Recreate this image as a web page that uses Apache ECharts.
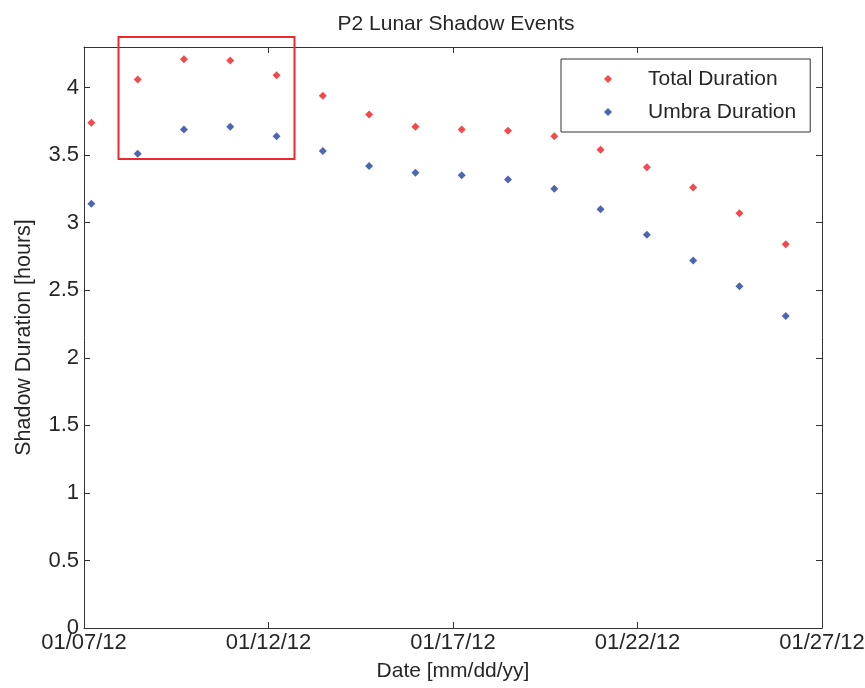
<!DOCTYPE html>
<html>
<head>
<meta charset="utf-8">
<script src="https://cdn.jsdelivr.net/npm/echarts@6/dist/echarts.min.js"></script>
<style>
html,body{margin:0;padding:0;background:#fff;}
#chart{width:865px;height:688px;}
</style>
</head>
<body>
<div id="chart"></div>
<script>
// ---- data ----
const axisStartDate = '2012-01-07';
const axisEndDate = '2012-01-27';
const tickStepDays = 5;
const eventTimes = [
  '2012-01-07 04:48', '2012-01-08 10:55', '2012-01-09 17:01', '2012-01-10 23:07',
  '2012-01-12 05:14', '2012-01-13 11:20', '2012-01-14 17:27', '2012-01-15 23:33',
  '2012-01-17 05:40', '2012-01-18 11:46', '2012-01-19 17:53', '2012-01-20 23:59',
  '2012-01-22 06:06', '2012-01-23 12:12', '2012-01-24 18:19', '2012-01-26 00:25'
];
const totalDuration = [3.74, 4.06, 4.21, 4.20, 4.09, 3.94, 3.80, 3.71, 3.69, 3.68, 3.64, 3.54, 3.41, 3.26, 3.07, 2.84];
const umbraDuration = [3.14, 3.51, 3.69, 3.71, 3.64, 3.53, 3.42, 3.37, 3.35, 3.32, 3.25, 3.10, 2.91, 2.72, 2.53, 2.31];
const seriesNames = ['Total Duration', 'Umbra Duration'];
const yMax = 4.3;

// ---- helpers ----
const DAY = 86400000;
function parseUTC(s) {
  const p = s.split(/[- :]/).map(Number);
  return Date.UTC(p[0], p[1] - 1, p[2], p[3] || 0, p[4] || 0);
}
const t0 = parseUTC(axisStartDate);
const spanDays = (parseUTC(axisEndDate) - t0) / DAY;
const xDays = eventTimes.map(s => (parseUTC(s) - t0) / DAY);
function pad(n) { return (n < 10 ? '0' : '') + n; }
function fmtDate(v) {
  const d = new Date(t0 + v * DAY);
  return pad(d.getUTCMonth() + 1) + '/' + pad(d.getUTCDate()) + '/' + pad(d.getUTCFullYear() % 100);
}

const FONT = 'Liberation Sans, Arial, sans-serif';
const TXT = '#262626';
const chart = echarts.init(document.getElementById('chart'), null, {renderer: 'canvas'});

const xBase = {
  type: 'value', min: 0, max: spanDays, interval: tickStepDays,
  splitLine: {show: false},
  axisLine: {show: true, onZero: false, lineStyle: {color: '#333', width: 1}},
  axisTick: {show: true, inside: true, length: 6, lineStyle: {color: '#333'}}
};
const yBase = {
  type: 'value', min: 0, max: yMax, interval: 0.5,
  splitLine: {show: false},
  axisLine: {show: true, onZero: false, lineStyle: {color: '#333', width: 1}},
  axisTick: {show: true, inside: true, length: 6, lineStyle: {color: '#333'}}
};

chart.setOption({
  backgroundColor: '#fff',
  animation: false,
  title: {
    text: 'P2 Lunar Shadow Events',
    left: 451, top: 9, textAlign: 'center',
    textStyle: {fontFamily: FONT, fontSize: 21, fontWeight: 'normal', color: TXT}
  },
  grid: {left: 84, right: 43, top: 47, bottom: 60, containLabel: false, outerBoundsMode: 'none'},
  legend: {
    orient: 'vertical', left: 561, top: 59,
    backgroundColor: '#fff',
    borderColor: '#333', borderWidth: 1,
    padding: [9, 14, 9, 43],
    itemWidth: 8, itemHeight: 8, itemGap: 11,
    icon: 'diamond',
    textStyle: {fontFamily: FONT, fontSize: 21, color: TXT, lineHeight: 22, padding: [0, 0, 0, 31]},
    data: seriesNames
  },
  xAxis: [
    Object.assign({}, xBase, {
      position: 'bottom',
      name: 'Date [mm/dd/yy]', nameLocation: 'middle', nameGap: 33,
      nameTextStyle: {fontFamily: FONT, fontSize: 21, color: TXT},
      axisLabel: {show: true, formatter: fmtDate, fontFamily: FONT, fontSize: 22, color: TXT, margin: 4, showMinLabel: true, showMaxLabel: true}
    }),
    Object.assign({}, xBase, {position: 'top', axisLabel: {show: false}})
  ],
  yAxis: [
    Object.assign({}, yBase, {
      position: 'left',
      name: 'Shadow Duration [hours]', nameLocation: 'middle', nameGap: 49,
      nameTextStyle: {fontFamily: FONT, fontSize: 21.5, color: TXT},
      axisLabel: {show: true, fontFamily: FONT, fontSize: 22, color: TXT, margin: 5, showMaxLabel: false}
    }),
    Object.assign({}, yBase, {position: 'right', axisLabel: {show: false}})
  ],
  series: [
    {
      name: seriesNames[0], type: 'scatter', symbol: 'diamond', symbolSize: 8,
      itemStyle: {color: '#f01c22'},
      data: xDays.map((x, i) => [x, totalDuration[i]])
    },
    {
      name: seriesNames[1], type: 'scatter', symbol: 'diamond', symbolSize: 8,
      itemStyle: {color: '#223f9c'},
      data: xDays.map((x, i) => [x, umbraDuration[i]])
    }
  ],
  graphic: [{
    type: 'rect', z: 100,
    shape: {x: 118.5, y: 37, width: 176, height: 122},
    style: {fill: 'none', stroke: '#ea2a2e', lineWidth: 2}
  }]
});
</script>
</body>
</html>
